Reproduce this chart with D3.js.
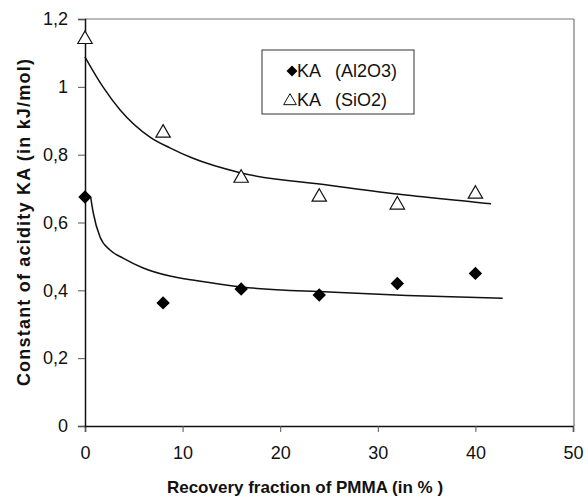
<!DOCTYPE html>
<meta charset="utf-8">
<script src="https://d3js.org/d3.v7.min.js"></script>
<style>
  body { margin: 0; background: #fff; }
  text { font-family: Arial, "Liberation Sans", sans-serif; fill: #111; }
  .tick text { font-size: 18px; }
  .titre { font-size: 17px; font-weight: bold; }
  .fit { fill: none; stroke: #111; stroke-width: 1.5; }
</style>
<body>
<div id="canvas"></div>
<script>
// valeurs
var fraction = [0, 8, 16, 24, 32, 40];
var kaAl2O3 = [0.675, 0.363, 0.404, 0.386, 0.42, 0.45];
var kaSiO2 = [1.14, 0.864, 0.731, 0.675, 0.652, 0.684];

// courbes de tendance (points releves)
var fitSiO2X = [0, 1.84, 3.6, 6.66, 8.7, 11, 16, 25, 32, 40, 41.6];
var fitSiO2Y = [1.088, 1.0, 0.932, 0.852, 0.82, 0.79, 0.746, 0.71, 0.684, 0.66, 0.655];
var fitAlX = [0.58, 0.85, 1.54, 2.56, 3.9, 5.96, 8.7, 11.5, 16, 25, 33, 42.8];
var fitAlY = [0.675, 0.628, 0.557, 0.519, 0.495, 0.466, 0.442, 0.428, 0.41, 0.395, 0.385, 0.377];

var xTicks = [0, 10, 20, 30, 40, 50];
var yTicks = [0, 0.2, 0.4, 0.6, 0.8, 1, 1.2];
var legende = ["KA   (Al2O3)", "KA   (SiO2)"];

var width = 588, height = 501;
var margin = {top: 19, right: 15, bottom: 75, left: 85};
var w = 573 - margin.left, h = 426 - margin.top;

var svg = d3.select('#canvas').append('svg')
  .attr('width', width).attr('height', height);

var g = svg.append('g')
  .attr('transform', 'translate(' + margin.left + ',' + margin.top + ')');

var x = d3.scaleLinear().domain([0, 50]).range([0, w]);
var y = d3.scaleLinear().domain([0, 1.2]).range([h, 0]);

// cadre haut et droite
g.append('line').attr('x1', 0).attr('x2', w + 1).attr('y1', 0).attr('y2', 0)
  .attr('stroke', '#777').attr('stroke-width', 1);
g.append('line').attr('x1', w + 1).attr('x2', w + 1).attr('y1', 0).attr('y2', h)
  .attr('stroke', '#777').attr('stroke-width', 1.2);

// axes
var xAxis = d3.axisBottom(x).tickValues(xTicks).tickSize(6).tickPadding(14);
var gx = g.append('g').attr('transform', 'translate(0,' + h + ')').call(xAxis);
gx.select('.domain').attr('stroke', '#111').attr('stroke-width', 1.5);
gx.selectAll('.tick line').attr('stroke', '#555');

var yAxis = d3.axisLeft(y).tickValues(yTicks).tickSize(7).tickPadding(10)
  .tickFormat(function(d) { return String(d).replace('.', ','); });
var gy = g.append('g').call(yAxis);
gy.select('.domain').attr('stroke', '#111').attr('stroke-width', 1.5);
gy.selectAll('.tick line').attr('stroke', '#555');

// courbes
var line = d3.line()
  .x(function(d) { return x(d[0]); })
  .y(function(d) { return y(d[1]); })
  .curve(d3.curveMonotoneX);

g.append('path').attr('class', 'fit')
  .attr('d', line(d3.zip(fitSiO2X, fitSiO2Y)));
g.append('path').attr('class', 'fit')
  .attr('d', line(d3.zip(fitAlX, fitAlY)));

// points
var diamant = d3.symbol().type(d3.symbolSquare).size(90);
var triangle = d3.symbol().type(d3.symbolTriangle).size(90);

g.selectAll('.al').data(d3.zip(fraction, kaAl2O3)).enter()
  .append('path')
  .attr('d', diamant)
  .attr('transform', function(d) { return 'translate(' + x(d[0]) + ',' + y(d[1]) + ') rotate(45)'; })
  .attr('fill', '#000');

g.selectAll('.si').data(d3.zip(fraction, kaSiO2)).enter()
  .append('path')
  .attr('d', triangle)
  .attr('transform', function(d) { return 'translate(' + x(d[0]) + ',' + y(d[1]) + ')'; })
  .attr('fill', '#fff').attr('stroke', '#111').attr('stroke-width', 1.2);

// legende
var leg = svg.append('g').attr('transform', 'translate(262,50)');
leg.append('rect').attr('width', 152).attr('height', 64)
  .attr('fill', '#fff').attr('stroke', '#333').attr('stroke-width', 1);
leg.append('path').attr('d', d3.symbol().type(d3.symbolSquare).size(60))
  .attr('transform', 'translate(30,21) rotate(45)').attr('fill', '#000');
leg.append('path').attr('d', d3.symbol().type(d3.symbolTriangle).size(70))
  .attr('transform', 'translate(28,51)')
  .attr('fill', '#fff').attr('stroke', '#111').attr('stroke-width', 1);
leg.selectAll('.lt').data(legende).enter().append('text')
  .attr('x', 35).attr('y', function(d, i) { return 27 + i * 29; })
  .style('font-size', '18px').style('white-space', 'pre')
  .attr('xml:space', 'preserve')
  .text(function(d) { return d; });

// titres des axes
svg.append('text').attr('class', 'titre')
  .attr('x', 305).attr('y', 493).attr('text-anchor', 'middle')
  .text('Recovery fraction of PMMA (in % )');
svg.append('text').attr('class', 'titre')
  .attr('transform', 'translate(30,222) rotate(-90)').attr('text-anchor', 'middle')
  .style('font-size', '18px').style('letter-spacing', '1.2px')
  .text('Constant of acidity KA (in kJ/mol)');
</script>
</body>
